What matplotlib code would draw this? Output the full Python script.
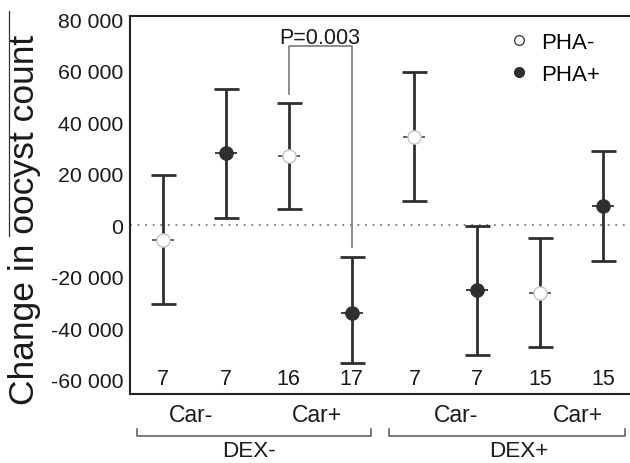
import matplotlib
matplotlib.use("Agg")
import matplotlib.pyplot as plt
import matplotlib.transforms as mtransforms
import numpy as np
from matplotlib.lines import Line2D

plt.rcParams["font.family"] = ["Liberation Sans", "DejaVu Sans"]

# group means and error-bar limits, one entry per column
positions = [1, 2, 3, 4, 5, 6, 7, 8]
pha = ["PHA-", "PHA+", "PHA-", "PHA+", "PHA-", "PHA+", "PHA-", "PHA+"]
means = [-5600, 28000, 27000, -34100, 34200, -25400, -26300, 7300]
upper = [19500, 52900, 47500, -12300, 59300, -200, -5000, 28900]
lower = [-30600, 2800, 6300, -53500, 9500, -50300, -47300, -14100]
n_per_group = [7, 7, 16, 17, 7, 7, 15, 15]

car_labels = ["Car-", "Car+", "Car-", "Car+"]
car_pos = [1.45, 3.45, 5.66, 7.6]
dex_labels = ["DEX-", "DEX+"]
dex_pos = [2.37, 6.66]
dex_spans = [(0.586, 4.31), (4.595, 8.35)]

p_text = "P=0.003"
p_pair = (3, 4)
p_top = 69500
p_ends = (50900, -8700)

DARK = "#2f2f2f"
GREY = "#7a7a7a"

fig = plt.figure(figsize=(6.3, 4.64), dpi=100)
ax = fig.add_axes([130 / 630, 1 - 395 / 464, 1 - 130 / 630, (395 - 17) / 464])

ax.axhline(0, color=GREY, linestyle=(0, (1, 3.2)), linewidth=1.3, zorder=1)

for x, m, lo, hi, g in zip(positions, means, lower, upper, pha):
    ax.errorbar(x, m, yerr=[[m - lo], [hi - m]], fmt="none", ecolor=DARK,
                elinewidth=2.0, capsize=9, capthick=2.0, zorder=2)
    ax.plot(x, m, marker="_", markersize=16, markeredgewidth=1.3,
            color=DARK if g == "PHA+" else "#555555", zorder=3)
    if g == "PHA+":
        ax.plot(x, m, "o", markersize=9.5, markerfacecolor=DARK,
                markeredgecolor=DARK, zorder=4)
    else:
        ax.plot(x, m, "o", markersize=9.5, markerfacecolor="white",
                markeredgecolor="#c4c4c4", markeredgewidth=1.0, zorder=4)

# significance bracket
xa, xb = p_pair
ax.plot([xa, xa, xb, xb], [p_ends[0], p_top, p_top, p_ends[1]],
        color=GREY, linewidth=1.2, zorder=1)
ax.text((xa + xb) / 2, p_top + 1300, p_text, ha="center", va="baseline",
        fontsize=15.5, color="#1a1a1a")

ax.set_xlim(0.476, 8.43)
ax.set_ylim(-65600, 81200)
ax.set_yticks(np.arange(-60000, 80001, 20000))
ax.set_yticklabels([f"{v:,}".replace(",", " ") for v in range(-60000, 80001, 20000)])
ax.tick_params(axis="y", length=0, pad=5, labelsize=15.3, labelcolor="#1a1a1a")
ax.set_xticks([])

for s in ["top", "left", "bottom"]:
    ax.spines[s].set_linewidth(1.5)
    ax.spines[s].set_color("#222222")
ax.spines["right"].set_visible(False)

# group sizes along the bottom
xt = mtransforms.blended_transform_factory(ax.transData, ax.transAxes)
for x, n in zip(positions, n_per_group):
    ax.text(x, 0.041, str(n), transform=xt, ha="center", va="center",
            fontsize=15.5, color="#1a1a1a")

for x, lab in zip(car_pos, car_labels):
    ax.text(x, -0.053, lab, transform=xt, ha="center", va="center",
            fontsize=16.5, color="#1a1a1a", clip_on=False)

for (x0, x1), x, lab in zip(dex_spans, dex_pos, dex_labels):
    ax.plot([x0, x0, x1, x1], [-0.093, -0.111, -0.111, -0.093], transform=xt,
            color="#555555", linewidth=1.1, clip_on=False)
    ax.text(x, -0.149, lab, transform=xt, ha="center", va="center",
            fontsize=16.2, color="#1a1a1a", clip_on=False)

handles = [
    Line2D([], [], linestyle="none", marker="o", markersize=7,
           markerfacecolor="white", markeredgecolor="#444444", markeredgewidth=1.0),
    Line2D([], [], linestyle="none", marker="o", markersize=7,
           markerfacecolor=DARK, markeredgecolor=DARK),
]
ax.legend(handles, ["PHA-", "PHA+"], loc="upper left", frameon=False,
          bbox_to_anchor=(510 / 630, 1 - 33 / 464), bbox_transform=fig.transFigure,
          fontsize=16, handlelength=0.8, handletextpad=0.6, labelspacing=0.5,
          borderaxespad=0, borderpad=0)

fig.text(25 / 630, 1 - 220 / 464, "Change in oocyst count", rotation=90,
         ha="center", va="center", fontsize=25.5, color="#1a1a1a")
fig.add_artist(Line2D([9 / 630, 9 / 630], [1 - 12 / 464, 1 - 237 / 464],
                      color="#333333", linewidth=0.9))

fig.savefig("out.png", dpi=100)
